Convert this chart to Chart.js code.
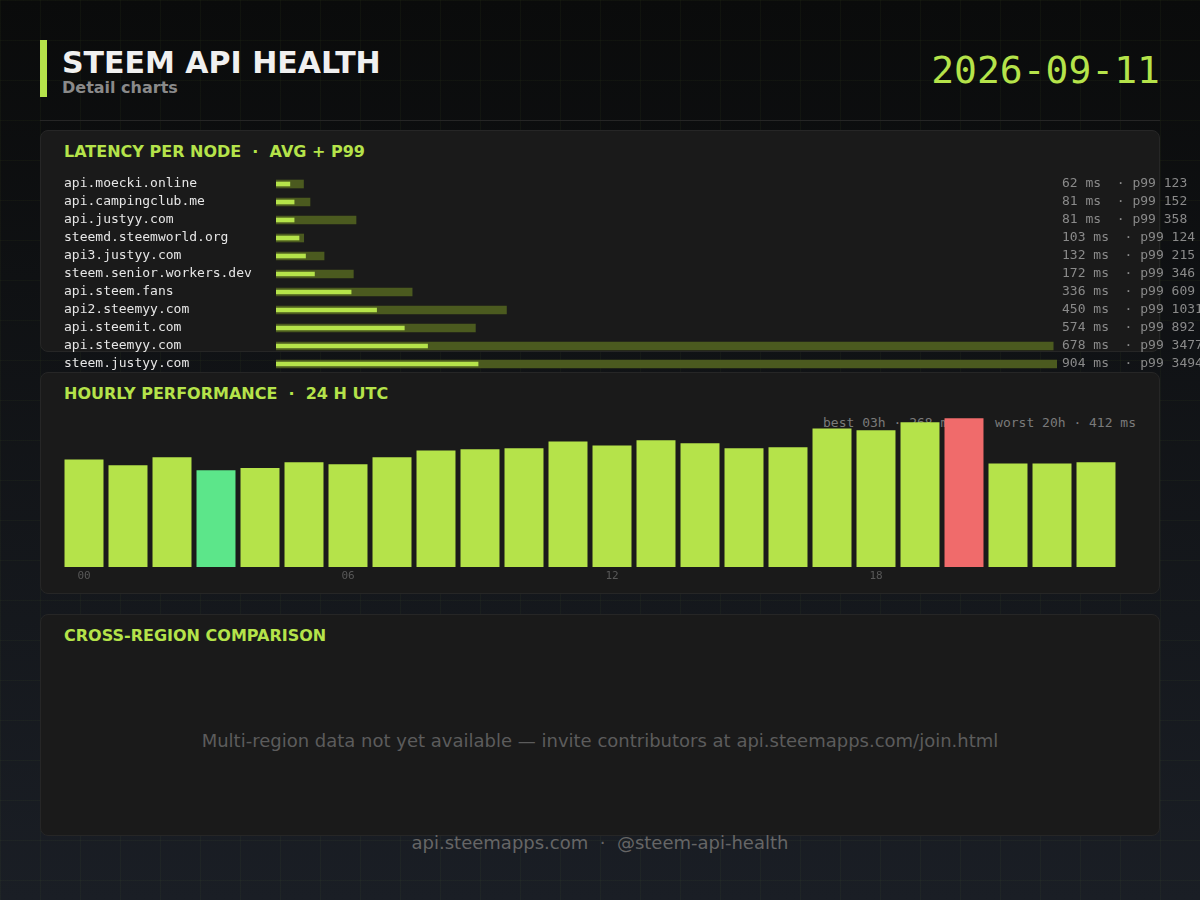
<!DOCTYPE html>
<html>
<head>
<meta charset="utf-8">
<script src="https://cdn.jsdelivr.net/npm/chart.js@4.4.1/dist/chart.umd.min.js"></script>
<style>
  html, body { margin: 0; padding: 0; }
  body {
    width: 1200px; height: 900px; overflow: hidden; position: relative;
    font-family: "DejaVu Sans", sans-serif;
    background:
      linear-gradient(rgba(181,227,74,0.035) 1px, transparent 1px) 0 0 / 40px 40px,
      linear-gradient(90deg, rgba(181,227,74,0.035) 1px, transparent 1px) 0 0 / 40px 40px,
      linear-gradient(180deg, #0a0b0b 0%, #1a1e25 100%);
  }
  .abs { position: absolute; line-height: 1; white-space: pre; }
  .accent { left: 40px; top: 40px; width: 7px; height: 57px; background: #b5e34a; }
  .title { left: 62px; top: 47.5px; font-size: 30px; font-weight: bold; color: #f0f0f0; }
  .subtitle { left: 62px; top: 79.5px; font-size: 16px; font-weight: bold; color: #8a8a8a; }
  .date { right: 40px; top: 51px; font-family: "DejaVu Sans Mono", monospace; font-size: 38px; color: #b5e34a; }
  .sep { left: 40px; top: 120px; width: 1120px; height: 1px; background: #262626; }
  .panel { position: absolute; left: 40px; width: 1120px; height: 222px; box-sizing: border-box;
    background: #1a1a1a; border: 1px solid #262626; border-radius: 8px; }
  .ptitle { left: 64px; font-size: 16px; font-weight: bold; color: #b5e34a; }
  .mono { font-family: "DejaVu Sans Mono", monospace; }
  .note { left: 0; width: 1200px; text-align: center; color: #5c5c5c; font-size: 18px; }
  .footer { left: 0; width: 1200px; text-align: center; color: #666; font-size: 18px; }
  canvas { position: absolute; }
</style>
</head>
<body>
<div class="abs accent"></div>
<div class="abs title">STEEM API HEALTH</div>
<div class="abs subtitle">Detail charts</div>
<div class="abs date">2026-09-11</div>
<div class="abs sep"></div>

<div class="panel" style="top:130px"></div>
<div class="panel" style="top:372px"></div>
<div class="panel" style="top:614px"></div>

<div class="abs ptitle" style="top:144px">LATENCY PER NODE  ·  AVG + P99</div>
<div class="abs ptitle" style="top:386px">HOURLY PERFORMANCE  ·  24 H UTC</div>
<div class="abs ptitle" style="top:627.5px">CROSS-REGION COMPARISON</div>

<div class="abs mono" id="bestWorst" style="right:64px; top:416px; font-size:13px; color:#7a7a7a;"></div>

<canvas id="latencyChart" width="1136" height="218" style="left:64px; top:165px; width:1136px; height:218px;"></canvas>
<canvas id="hourlyChart" width="1056" height="186" style="left:62px; top:401px; width:1056px; height:186px;"></canvas>

<div class="abs note" style="top:731.5px">Multi-region data not yet available — invite contributors at api.steemapps.com/join.html</div>
<div class="abs footer" style="top:834px">api.steemapps.com  ·  @steem-api-health</div>

<script>
const nodes = [
  "api.moecki.online", "api.campingclub.me", "api.justyy.com", "steemd.steemworld.org",
  "api3.justyy.com", "steem.senior.workers.dev", "api.steem.fans", "api2.steemyy.com",
  "api.steemit.com", "api.steemyy.com", "steem.justyy.com"
];
const avgMs = [62, 81, 81, 103, 132, 172, 336, 450, 574, 678, 904];
const p99Ms = [123, 152, 358, 124, 215, 346, 609, 1031, 892, 3477, 3494];

const hours = ["00", "01", "02", "03", "04", "05", "06", "07", "08", "09", "10", "11",
               "12", "13", "14", "15", "16", "17", "18", "19", "20", "21", "22", "23"];
const hourlyMs = [298, 282, 304, 268, 274, 290, 285, 304, 323, 326, 329, 348,
                  337, 351, 343, 329, 332, 384, 379, 401, 412, 287, 287, 290];
const hourTicks = ["00", "06", "12", "18"];

const LIME = "#b5e34a";
const OLIVE = "#4b5a1f";
const BEST = "#5ce68a";
const WORST = "#f06b6b";
const MONO = "'DejaVu Sans Mono', monospace";

// value text to the right of each latency row
const latencyLabels = {
  id: "latencyLabels",
  afterDatasetsDraw(chart) {
    const { ctx, chartArea, scales } = chart;
    ctx.save();
    ctx.font = "13px " + MONO;
    ctx.fillStyle = "#8a8a8a";
    ctx.textBaseline = "middle";
    ctx.textAlign = "left";
    nodes.forEach((n, i) => {
      ctx.fillText(avgMs[i] + " ms  · p99 " + p99Ms[i], chartArea.right + 5, scales.y.getPixelForValue(i));
    });
    ctx.restore();
  }
};

new Chart(document.getElementById("latencyChart"), {
  type: "bar",
  data: {
    labels: nodes,
    datasets: [
      { label: "avg", data: avgMs, backgroundColor: LIME, barThickness: 4, grouped: false },
      { label: "p99", data: p99Ms, backgroundColor: OLIVE, barThickness: 8, grouped: false },
    ],
  },
  options: {
    indexAxis: "y",
    responsive: false,
    animation: false,
    layout: { padding: { left: 0, right: 143, top: 10, bottom: 10 } },
    scales: {
      x: { display: false, min: 0, max: Math.max(...p99Ms) },
      y: {
        afterFit(scale) { scale.width = 212; },
        grid: { display: false, drawTicks: false },
        border: { display: false },
        ticks: { crossAlign: "far", padding: 0, autoSkip: false, color: "#e6e6e6", font: { family: MONO, size: 13 } },
      },
    },
    plugins: { legend: { display: false }, tooltip: { enabled: false } },
  },
  plugins: [latencyLabels],
});

// best / worst hour
const bestIdx = hourlyMs.indexOf(Math.min(...hourlyMs));
const worstIdx = hourlyMs.indexOf(Math.max(...hourlyMs));
document.getElementById("bestWorst").innerHTML =
  "<span>best " + hours[bestIdx] + "h · " + hourlyMs[bestIdx] + " ms</span>" +
  "<span style=\"margin-left:39px\">worst " + hours[worstIdx] + "h · " + hourlyMs[worstIdx] + " ms</span>";

const hourColors = hourlyMs.map((v, i) => (i === bestIdx ? BEST : i === worstIdx ? WORST : LIME));

new Chart(document.getElementById("hourlyChart"), {
  type: "bar",
  data: {
    labels: hours,
    datasets: [{ data: hourlyMs, backgroundColor: hourColors, barPercentage: 0.886, categoryPercentage: 1 }],
  },
  options: {
    responsive: false,
    animation: false,
    layout: { padding: 0 },
    scales: {
      x: {
        afterFit(scale) { scale.height = 20; },
        grid: { display: false, drawTicks: false },
        border: { display: false },
        ticks: {
          autoSkip: false, maxRotation: 0, padding: 3, color: "#585858",
          font: { family: MONO, size: 11 },
          callback: (v, i) => (hourTicks.includes(hours[i]) ? hours[i] : ""),
        },
      },
      y: { display: false, min: 0, max: 460 },
    },
    plugins: { legend: { display: false }, tooltip: { enabled: false } },
  },
});
</script>
</body>
</html>
